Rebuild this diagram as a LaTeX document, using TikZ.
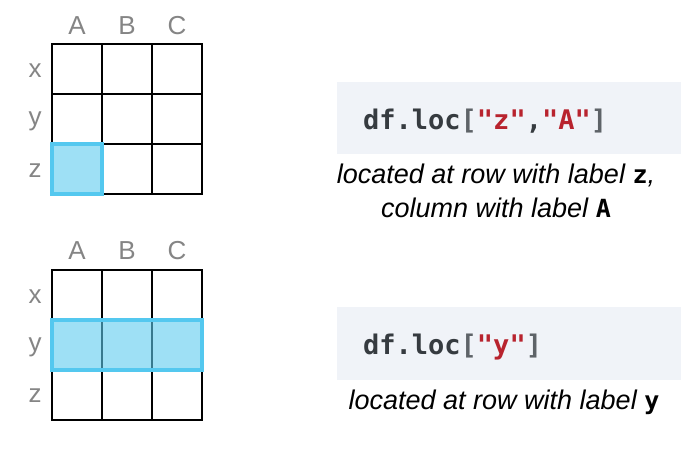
\documentclass[tikz,border=0pt]{standalone}
\usepackage{fontspec}
\setmainfont{Liberation Sans}
\newfontfamily\codefont{DejaVu Sans Mono}
\definecolor{gridgray}{HTML}{858585}
\definecolor{hlline}{HTML}{54C8EF}
\definecolor{hlfill}{HTML}{5DCBEE}
\definecolor{codebg}{HTML}{F0F3F8}
\definecolor{codeink}{HTML}{363B40}
\definecolor{codebrk}{HTML}{5E6368}
\definecolor{codestr}{HTML}{B8232E}
\tikzset{
  cell/.style={draw=black, line width=2.2pt, minimum size=50pt, inner sep=0pt, outer sep=0pt},
  axislabel/.style={text=gridgray, font=\fontsize{26}{26}\selectfont, inner sep=0pt},
  highlight/.style={draw=hlline, line width=3.6pt, fill=hlfill, fill opacity=0.6, draw opacity=1},
  codebox/.style={fill=codebg, draw=none},
  codetext/.style={text=codeink, font=\codefont\bfseries\fontsize{27}{27}\selectfont, inner sep=0pt, anchor=base west},
  caption/.style={font=\itshape\fontsize{27}{34}\selectfont, align=center, inner sep=0pt, anchor=base},
}
\newcommand{\lbl}[1]{{\upshape\codefont\bfseries\fontsize{25}{25}\selectfont #1}}
\newcommand{\str}[1]{\textcolor{codestr}{"#1"}}
\newcommand{\brk}[1]{\textcolor{codebrk}{#1}}
\begin{document}
\begin{tikzpicture}[x=1pt,y=-1pt]
\useasboundingbox (0,0) rectangle (700,461);

% ---- upper table: single cell selection ----
\foreach \r/\rn in {0/x,1/y,2/z}{
  \foreach \c/\cn in {0/A,1/B,2/C}{
    \node[cell] (t-\rn-\cn) at (77+50*\c, 69+50*\r) {};
  }
}
\foreach \cn/\xx in {A/77,B/127,C/177}
  \node[axislabel] (tcol-\cn) at (\xx,26) {\cn};
\foreach \rn/\yy in {x/71,y/121,z/171}
  \node[axislabel] (trow-\rn) at (35,\yy) {\rn};
\draw[highlight] (t-z-A.north west) rectangle (t-z-A.south east);

% ---- lower table: row selection ----
\foreach \r/\rn in {0/x,1/y,2/z}{
  \foreach \c/\cn in {0/A,1/B,2/C}{
    \node[cell] (b-\rn-\cn) at (77+50*\c, 295+50*\r) {};
  }
}
\foreach \cn/\xx in {A/77,B/127,C/177}
  \node[axislabel] (bcol-\cn) at (\xx,251) {\cn};
\foreach \rn/\yy in {x/297,y/347,z/396}
  \node[axislabel] (brow-\rn) at (35,\yy) {\rn};
\draw[highlight] (b-y-A.north west) rectangle (b-y-C.south east);

% ---- code snippets and captions ----
\fill[codebox] (337,82) rectangle (681,154);
\node[codetext] (code1) at (363,129) {df.loc\brk{[}\str{z},\str{A}\brk{]}};
\node[caption] (cap1) at (496,217) {located at row with label \lbl{z},\\column with label \lbl{A}};

\fill[codebox] (337,307) rectangle (681,380);
\node[codetext] (code2) at (363,354) {df.loc\brk{[}\str{y}\brk{]}};
\node[caption] (cap2) at (504,409) {located at row with label \lbl{y}};
\end{tikzpicture}
\end{document}
